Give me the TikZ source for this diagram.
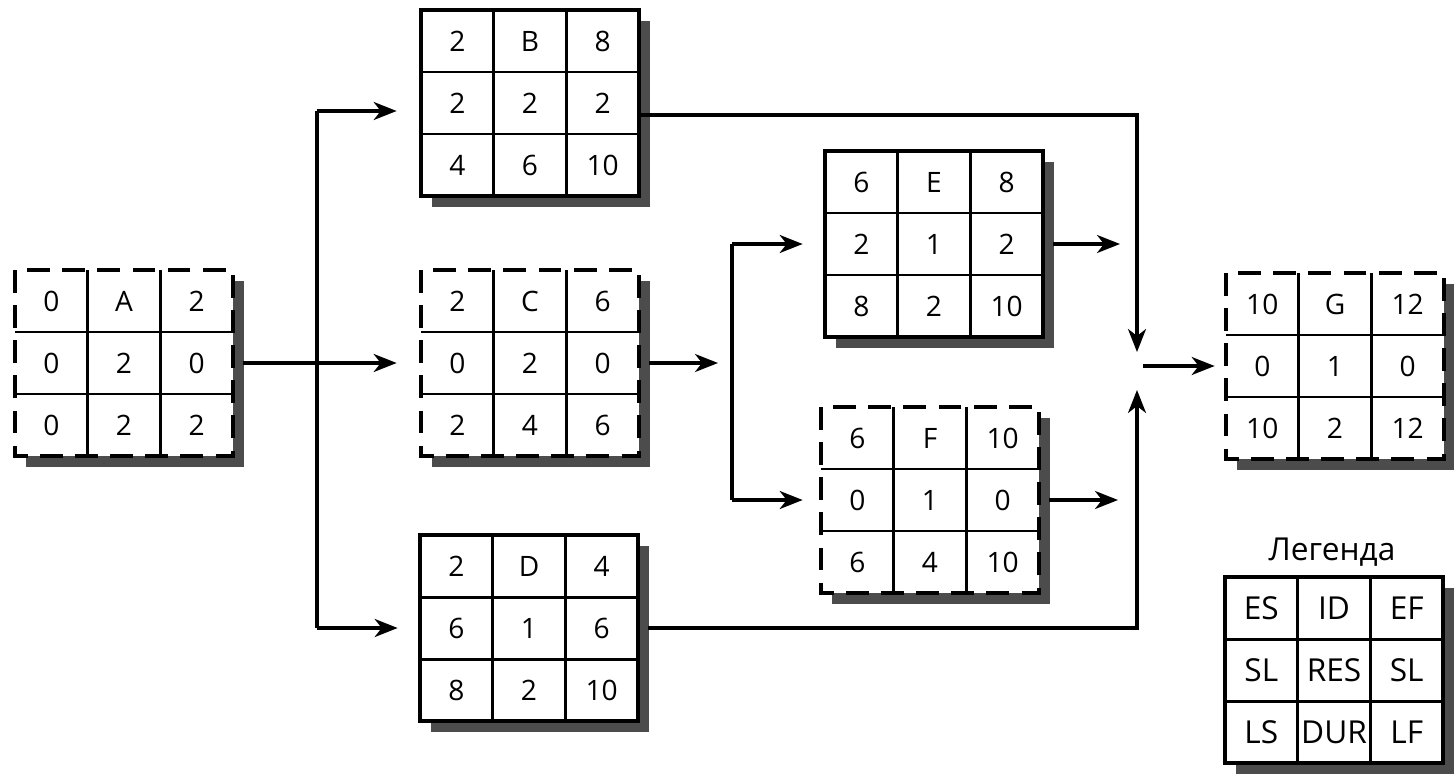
\documentclass[tikz,border=0pt]{standalone}
\usepackage{xcolor}
\usepackage{fontspec}
\setmainfont{Open Sans}
\usetikzlibrary{arrows.meta}

\tikzset{
  cell/.style={font=\fontsize{16}{19}\selectfont, inner sep=0pt},
  legcell/.style={font=\fontsize{18}{21}\selectfont, inner sep=0pt},
  grid/.style={line width=1.7pt},
  frame/.style={line width=2.2pt},
  crit/.style={frame, dash pattern=on 13pt off 7pt},
  shade/.style={fill=black!70},
  link/.style={line width=1.8pt},
  flow/.style={link, -{Stealth[length=4.6mm,width=3.6mm,inset=1.4mm]}},
}

% name, top left corner, frame style, text style, cell texts
\newcommand{\taskbox}[5]{%
  \begin{scope}[shift={#2}]
    \fill[shade] (11,11) rectangle (229,197);
    \fill[white] (0,0) rectangle (218,186);
    \draw[grid] (72.7,0) -- (72.7,186) (145.3,0) -- (145.3,186)
      (0,62) -- (218,62) (0,124) -- (218,124);
    \draw[#3] (0,0) rectangle (218,186);
    \node[minimum width=4.36cm, minimum height=3.72cm, inner sep=0pt] (#1) at (109,93) {};
    \foreach \t [count=\i from 0] in {#5} {
      \pgfmathtruncatemacro{\cx}{mod(\i,3)}
      \pgfmathtruncatemacro{\ry}{int(\i/3)}
      \node[#4] at (36.3+72.7*\cx, 31+62*\ry) {\t};
    }
  \end{scope}}

\begin{document}
\begin{tikzpicture}[x=0.02cm, y=-0.02cm]
  \useasboundingbox (0,0) rectangle (1454,774);
  %
  \taskbox{A}{(15,270)}{crit}{cell}{0,A,2,0,2,0,0,2,2}
  \taskbox{B}{(421,10)}{frame}{cell}{2,B,8,2,2,2,4,6,10}
  \taskbox{C}{(421,270)}{crit}{cell}{2,C,6,0,2,0,2,4,6}
  \taskbox{D}{(420,535)}{frame}{cell}{2,D,4,6,1,6,8,2,10}
  \taskbox{E}{(825,151)}{frame}{cell}{6,E,8,2,1,2,8,2,10}
  \taskbox{F}{(821,407)}{crit}{cell}{6,F,10,0,1,0,6,4,10}
  \taskbox{G}{(1226,273)}{crit}{cell}{10,G,12,0,1,0,10,2,12}
  %
  \node[legcell] (legtitle) at (1332,552) {Легенда};
  \taskbox{leg}{(1225,577)}{frame}{legcell}{ES,ID,EF,SL,RES,SL,LS,DUR,LF}
  %
  \coordinate (jA) at (317,363);
  \coordinate (jC) at (732,363);
  \coordinate (cEnd) at (718,363);
  \coordinate (m) at (1137,368);
  \coordinate (bIn) at ([yshift=-0.16cm]B.west);
  \coordinate (bOut) at ([yshift=-0.24cm]B.east);
  %
  \draw[link, shorten <=0.2cm] (A.east) -- (jA);
  \draw[link] (jA |- bIn) -- (jA |- D.west);
  \draw[flow, shorten >=0.48cm] (jA |- bIn) -- (bIn);
  \draw[flow, shorten >=0.48cm] (jA) -- (C.west);
  \draw[flow, shorten >=0.44cm] (jA |- D.west) -- (D.west);
  %
  \draw[flow, shorten <=0.2cm] (C.east) -- (cEnd);
  \draw[link] (jC |- E.west) -- (jC |- F.west);
  \draw[flow, shorten >=0.44cm] (jC |- E.west) -- (E.west);
  \draw[flow, shorten >=0.36cm] (jC |- F.west) -- (F.west);
  %
  \draw[flow, shorten >=0.32cm] (bOut) -| (m);
  \draw[flow, shorten <=0.2cm, shorten >=0.44cm] (D.east) -| (m);
  \draw[flow, shorten <=0.2cm, shorten >=0.34cm] (E.east) -- (m |- E.east);
  \draw[flow, shorten <=0.2cm, shorten >=0.38cm] (F.east) -- (m |- F.east);
  \draw[flow, shorten <=0.12cm, shorten >=0.22cm] (m |- G.west) -- (G.west);
\end{tikzpicture}
\end{document}
